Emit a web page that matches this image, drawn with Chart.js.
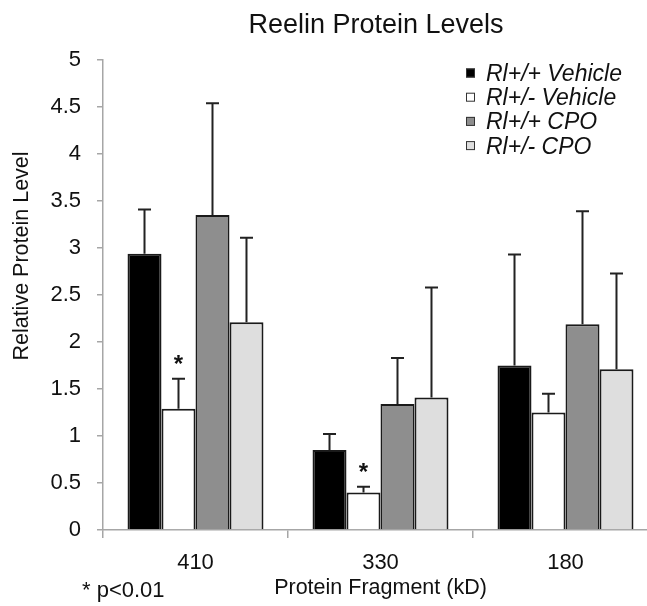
<!DOCTYPE html>
<html>
<head>
<meta charset="utf-8">
<script src="https://cdn.jsdelivr.net/npm/chart.js@4"></script>
<style>
  html, body { margin: 0; padding: 0; background: #fff; overflow: hidden; }
  #wrap { position: relative; width: 647px; height: 606px; overflow: hidden; }
</style>
</head>
<body>
<div id="wrap"><canvas id="reelinChart" width="660" height="606"></canvas></div>
<script>
// Reelin protein levels - grouped bars with upper error bars
const chartTitle = 'Reelin Protein Levels';
const categories = ['410', '330', '180'];
const seriesLabels = ['Rl+/+ Vehicle', 'Rl+/- Vehicle', 'Rl+/+ CPO', 'Rl+/- CPO'];
const yTickLabels = ['0', '0.5', '1', '1.5', '2', '2.5', '3', '3.5', '4', '4.5', '5'];

const wtVehicle  = [2.94, 0.85, 1.75];
const hetVehicle = [1.29, 0.40, 1.25];
const wtCpo      = [3.35, 1.34, 2.19];
const hetCpo     = [2.21, 1.41, 1.71];

// upper error (SD)
const wtVehicleErr  = [0.47, 0.17, 1.18];
const hetVehicleErr = [0.32, 0.06, 0.20];
const wtCpoErr      = [1.19, 0.49, 1.20];
const hetCpoErr     = [0.90, 1.17, 1.02];

// significance marks (*) over bars
const hetVehicleSig = [true, true, false];
const noSig = [false, false, false];

const seriesColors = ['#000000', '#ffffff', '#8e8e8e', '#dedede'];
const FONT = "'Liberation Sans', Arial, sans-serif";

const errors = [wtVehicleErr, hetVehicleErr, wtCpoErr, hetCpoErr];
const marks = [noSig, hetVehicleSig, noSig, noSig];

const datasets = [wtVehicle, hetVehicle, wtCpo, hetCpo].map((vals, i) => ({
    label: seriesLabels[i],
    data: vals,
    backgroundColor: seriesColors[i],
    borderColor: '#1a1a1a',
    borderWidth: 2,
    borderSkipped: 'bottom',
    categoryPercentage: 0.735,
    barPercentage: 1.0
}));

const extrasPlugin = {
    id: 'extras',
    afterDatasetsDraw(chart) {
        const ctx = chart.ctx;
        const yScale = chart.scales.y;
        ctx.save();
        chart.data.datasets.forEach((ds, di) => {
            const meta = chart.getDatasetMeta(di);
            meta.data.forEach((bar, i) => {
                const top = yScale.getPixelForValue(ds.data[i]);
                const errY = yScale.getPixelForValue(ds.data[i] + errors[di][i]);
                ctx.strokeStyle = '#222';
                ctx.lineWidth = 2;
                ctx.beginPath();
                ctx.moveTo(bar.x, top);
                ctx.lineTo(bar.x, errY);
                ctx.moveTo(bar.x - 6.5, errY);
                ctx.lineTo(bar.x + 6.5, errY);
                ctx.stroke();
                if (marks[di][i]) {
                    ctx.fillStyle = '#111';
                    ctx.font = 'bold 24px ' + FONT;
                    ctx.textAlign = 'center';
                    ctx.textBaseline = 'alphabetic';
                    ctx.fillText('*', bar.x, errY - 20 + 13.5);
                }
            });
        });
        ctx.restore();
    },
    afterDraw(chart) {
        const ctx = chart.ctx;
        ctx.save();
        ctx.fillStyle = '#111';
        ctx.textBaseline = 'alphabetic';

        // title
        ctx.font = '27px ' + FONT;
        ctx.textAlign = 'center';
        ctx.fillText(chartTitle, 376, 33);

        // y axis title
        ctx.save();
        ctx.translate(28, 256);
        ctx.rotate(-Math.PI / 2);
        ctx.font = '21.5px ' + FONT;
        ctx.textAlign = 'center';
        ctx.fillText('Relative Protein Level', 0, 0);
        ctx.restore();

        // legend
        ctx.font = 'italic 23px ' + FONT;
        ctx.textAlign = 'left';
        seriesLabels.forEach((label, i) => {
            const cy = 73 + i * 24.2;
            ctx.fillStyle = seriesColors[i];
            ctx.fillRect(466, cy - 4.5, 9, 9);
            ctx.strokeStyle = '#333';
            ctx.lineWidth = 1;
            ctx.strokeRect(466.5, cy - 4, 8, 8);
            ctx.fillStyle = '#111';
            ctx.fillText(label, 486, cy + 8);
        });

        // footnote
        ctx.font = '22px ' + FONT;
        ctx.fillText('* p<0.01', 82, 597);
        ctx.restore();
    }
};

const ctx = document.getElementById('reelinChart');
new Chart(ctx, {
    type: 'bar',
    data: { labels: categories, datasets: datasets },
    options: {
        responsive: false,
        animation: false,
        layout: { padding: { top: 60, right: 2, bottom: 0, left: 0 } },
        plugins: {
            legend: { display: false },
            tooltip: { enabled: false },
            title: { display: false }
        },
        scales: {
            x: {
                afterFit: s => { s.height = 76; },
                grid: {
                    display: true,
                    drawOnChartArea: false,
                    drawTicks: true,
                    tickLength: 8,
                    color: '#a6a6a6',
                    lineWidth: 1.5,
                    offset: true
                },
                border: { color: '#a6a6a6', width: 1.5 },
                ticks: {
                    color: '#111',
                    padding: 12,
                    font: { family: FONT, size: 22 }
                },
                title: {
                    display: true,
                    text: 'Protein Fragment (kD)',
                    color: '#111',
                    font: { family: FONT, size: 21.5 },
                    padding: { top: 0, bottom: 5 }
                }
            },
            y: {
                min: 0,
                max: 5,
                afterFit: s => { s.width = 103; },
                grid: {
                    display: true,
                    drawOnChartArea: false,
                    drawTicks: true,
                    tickLength: 6,
                    color: '#a6a6a6',
                    lineWidth: 1.5
                },
                border: { color: '#a6a6a6', width: 1.5 },
                ticks: {
                    stepSize: 0.5,
                    color: '#111',
                    padding: 16,
                    font: { family: FONT, size: 22 },
                    callback: (v, i) => yTickLabels[i]
                }
            }
        }
    },
    plugins: [extrasPlugin]
});
</script>
</body>
</html>
